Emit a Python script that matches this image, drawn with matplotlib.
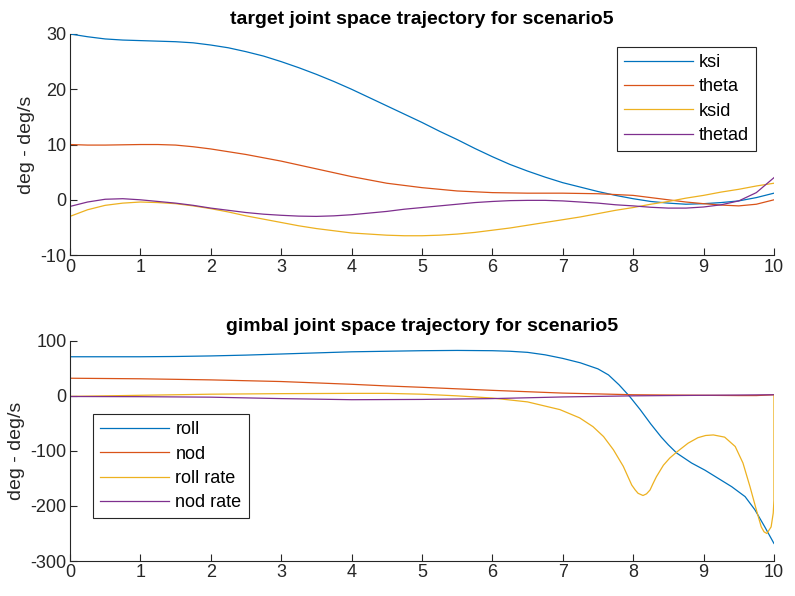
import matplotlib
matplotlib.use("Agg")
import matplotlib.pyplot as plt

plt.rcParams['font.family'] = ['Liberation Sans', 'DejaVu Sans']
plt.rcParams['axes.unicode_minus'] = False

# ---- top plot data ----
t_top = [0, 0.25, 0.5, 0.75, 1, 1.25, 1.5, 1.75, 2, 2.25, 2.5, 2.75, 3, 3.25, 3.5, 3.75, 4, 4.25, 4.5, 4.75,
         5, 5.25, 5.5, 5.75, 6, 6.25, 6.5, 6.75, 7, 7.25, 7.5, 7.75, 8, 8.25, 8.5, 8.75, 9, 9.25, 9.5, 9.75, 10]
ksi = [30.0, 29.5, 29.1, 28.9, 28.8, 28.7, 28.6, 28.4, 28.0, 27.5, 26.8, 26.0, 25.0, 23.9, 22.7, 21.4, 20.0, 18.5, 17.0, 15.5,
       14.0, 12.4, 10.9, 9.3, 7.8, 6.4, 5.2, 4.1, 3.1, 2.3, 1.5, 0.8, 0.2, -0.3, -0.6, -0.8, -0.7, -0.5, -0.2, 0.4, 1.2]
theta = [10.0, 9.9, 9.9, 9.95, 10.0, 10.0, 9.9, 9.6, 9.2, 8.7, 8.2, 7.6, 7.0, 6.3, 5.6, 4.9, 4.2, 3.6, 3.0, 2.6,
         2.2, 1.9, 1.6, 1.45, 1.3, 1.25, 1.2, 1.2, 1.2, 1.15, 1.1, 0.95, 0.8, 0.4, 0.0, -0.4, -0.7, -0.95, -1.1, -0.8, 0.0]
ksid = [-3.0, -1.8, -1.0, -0.6, -0.4, -0.5, -0.7, -1.1, -1.6, -2.2, -2.9, -3.5, -4.1, -4.7, -5.2, -5.6, -6.0, -6.2, -6.4, -6.5,
        -6.5, -6.4, -6.2, -5.9, -5.5, -5.1, -4.6, -4.1, -3.6, -3.1, -2.5, -1.9, -1.4, -0.8, -0.3, 0.3, 0.8, 1.4, 1.9, 2.5, 3.0]
thetad = [-1.2, -0.4, 0.1, 0.2, 0.0, -0.3, -0.6, -1.0, -1.5, -1.9, -2.3, -2.6, -2.8, -2.95, -3.0, -2.9, -2.7, -2.4, -2.1, -1.7,
          -1.4, -1.1, -0.8, -0.5, -0.3, -0.15, -0.1, -0.1, -0.2, -0.4, -0.6, -0.9, -1.1, -1.35, -1.5, -1.5, -1.3, -0.9, -0.2, 1.3, 4.0]

# ---- bottom plot data ----
t_roll = [0, 0.5, 1, 1.5, 2, 2.5, 3, 3.5, 4, 4.5, 5, 5.5, 6, 6.25, 6.5, 6.75, 7, 7.25, 7.5, 7.65, 7.8, 7.95,
          8.1, 8.25, 8.4, 8.5, 8.62, 8.83, 9.02, 9.21, 9.4, 9.59, 9.73, 9.87, 10]
roll = [71, 71, 71, 71.5, 72.5, 74, 76, 78, 80, 81, 82, 82.5, 82, 81, 79, 74.5, 68, 60, 49, 38, 20, -1,
        -25, -51, -75, -89, -104, -122, -135, -150, -165, -183, -207, -238, -268]
t_nod = [0, 1, 2, 3, 4, 4.5, 5, 6, 7, 8, 9, 9.5, 9.75, 10]
nod = [32, 31, 29, 26, 21, 18, 15.5, 10, 5, 2, 1, 0.5, 0.5, 2]
t_rr = [0, 1, 2, 3, 4, 4.5, 5, 5.5, 6, 6.5, 6.96, 7.24, 7.43, 7.58, 7.72, 7.86, 7.98, 8.03, 8.07, 8.14, 8.19, 8.24,
        8.28, 8.33, 8.43, 8.52, 8.62, 8.78, 8.92, 9.03, 9.14, 9.3, 9.45, 9.56, 9.66, 9.75, 9.82, 9.86, 9.9, 9.96, 9.99, 10, 10]
roll_rate = [-1, 1, 3, 4, 4.5, 4.5, 3, 0, -4, -11, -25, -40, -56, -74, -98, -128, -162, -171, -177, -181, -178, -171,
             -160, -147, -126, -113, -102, -86, -76, -72, -71, -75, -92, -122, -165, -207, -238, -247, -250, -238, -213, -190, 2]
t_nr = [0, 1, 2, 3, 4, 5, 6, 7, 8, 9, 10]
nod_rate = [-1.2, -1.5, -2.4, -5, -7, -6.5, -5, -2, 0, 1, 2]

colors = ['#0072BD', '#D95319', '#EDB120', '#7E2F8E']
txt = '#262626'

fig = plt.figure(figsize=(7.95, 5.96), dpi=100)
ax1 = fig.add_axes([0.088, 0.572, 0.8855, 0.371])
ax2 = fig.add_axes([0.088, 0.0587, 0.8855, 0.3695])

lw = 0.9
ax1.plot(t_top, ksi, color=colors[0], lw=lw, label='ksi')
ax1.plot(t_top, theta, color=colors[1], lw=lw, label='theta')
ax1.plot(t_top, ksid, color=colors[2], lw=lw, label='ksid')
ax1.plot(t_top, thetad, color=colors[3], lw=lw, label='thetad')
ax1.set_xlim(0, 10)
ax1.set_ylim(-10, 30)
ax1.set_yticks([-10, 0, 10, 20, 30])
ax1.set_xticks(range(0, 11))
ax1.set_title('target joint space trajectory for scenario5', fontsize=14, fontweight='bold', pad=7, color='black')
ax1.set_ylabel('deg - deg/s', fontsize=14)

legkw = dict(fontsize=13, handlelength=3.8, fancybox=False, framealpha=1, edgecolor=txt,
             borderpad=0.4, labelspacing=0.4, handletextpad=0.35, borderaxespad=0)
leg1 = ax1.legend(loc='upper right', bbox_to_anchor=(0.975, 0.941), **legkw)
leg1.get_frame().set_linewidth(0.8)

ax2.plot(t_roll, roll, color=colors[0], lw=lw, label='roll')
ax2.plot(t_nod, nod, color=colors[1], lw=lw, label='nod')
ax2.plot(t_rr, roll_rate, color=colors[2], lw=lw, label='roll rate')
ax2.plot(t_nr, nod_rate, color=colors[3], lw=lw, label='nod rate')
ax2.set_xlim(0, 10)
ax2.set_ylim(-300, 100)
ax2.set_yticks([-300, -200, -100, 0, 100])
ax2.set_xticks(range(0, 11))
ax2.set_title('gimbal joint space trajectory for scenario5', fontsize=14, fontweight='bold', pad=7, color='black')
ax2.set_ylabel('deg - deg/s', fontsize=14)
leg2 = ax2.legend(loc='lower left', bbox_to_anchor=(0.0331, 0.194), **legkw)
leg2.get_frame().set_linewidth(0.8)

for ax in (ax1, ax2):
    ax.spines['top'].set_visible(False)
    ax.spines['right'].set_visible(False)
    for s in ('left', 'bottom'):
        ax.spines[s].set_color(txt)
        ax.spines[s].set_linewidth(0.8)
    ax.tick_params(direction='in', length=5, width=0.8, colors=txt, labelsize=13, pad=2.5)
    ax.yaxis.label.set_color(txt)
    for t in ax.get_legend().get_texts():
        t.set_color('black')

fig.savefig('out.png', dpi=100)
